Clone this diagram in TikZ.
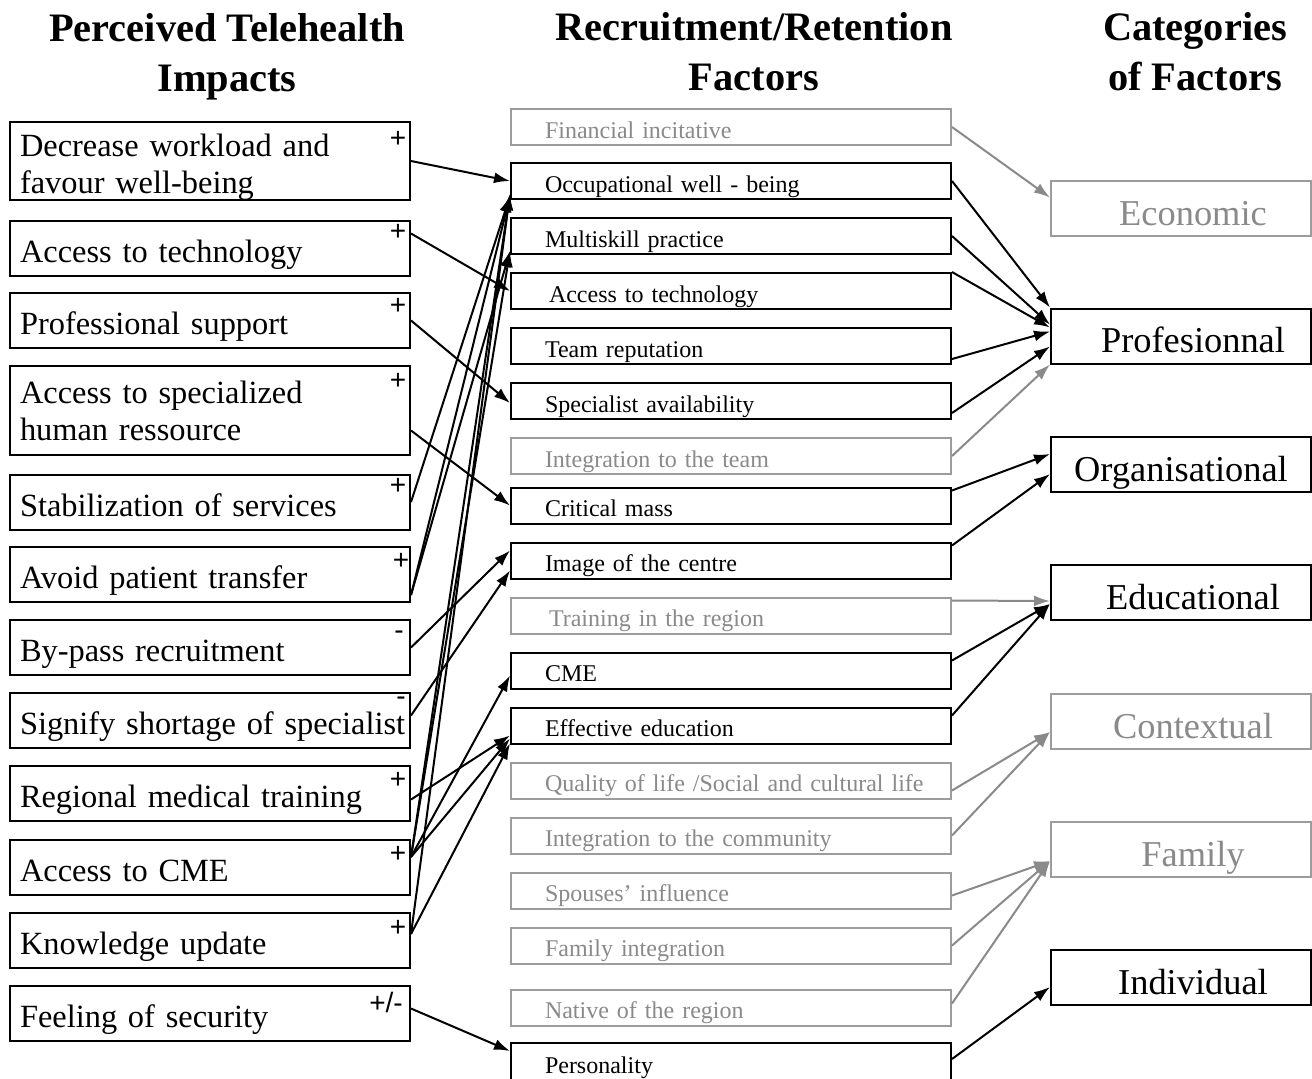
\documentclass[tikz,border=0pt]{standalone}
\usepackage{fontspec}
\setmainfont{Liberation Serif}
\newfontfamily\signfont{Liberation Sans}
\usetikzlibrary{arrows.meta,calc}
\definecolor{fg}{HTML}{8A8A8A}
\definecolor{gb}{HTML}{9C9C9C}
\begin{document}
\begin{tikzpicture}[x=0.5pt,y=-0.5pt,
  title/.style={align=center, font=\fontsize{20.2}{25}\selectfont\bfseries},
  lbox/.style={draw, line width=1pt, minimum width=200pt, text width=190pt, inner xsep=5pt, inner ysep=0pt, align=left, minimum height=27.5pt, font=\fontsize{16.2}{18.5}\selectfont},
  one/.style={text height=14pt, text depth=0pt},
  sign/.style={font=\signfont\fontsize{14}{14}\selectfont, inner sep=0pt},
  mbox/.style={draw, line width=1pt, minimum width=220pt, text width=186pt, inner xsep=17pt, inner ysep=0pt, align=left, minimum height=18pt, text height=11pt, text depth=0pt, font=\fontsize{12}{14}\selectfont},
  gmbox/.style={mbox, draw=gb, text=fg},
  rbox/.style={draw, line width=1pt, minimum width=130pt, minimum height=27.5pt, inner sep=0pt, text height=16.5pt, text depth=0pt, font=\fontsize{18.2}{20}\selectfont},
  grbox/.style={rbox, draw=gb, text=fg},
  arr/.style={line width=1pt, -{Latex[length=8pt,width=5.5pt]}},
  garr/.style={arr, color=fg}]
\path[fill=white, use as bounding box] (0,0) rectangle (1312,1078);

% titles
\node[title] (t1) at (227,57) {Perceived Telehealth\\Impacts};
\node[title] (t2) at (754,52) {Recruitment/Retention\\Factors};
\node[title] (t3) at (1195,52) {Categories\\of Factors};

% left column
\node[lbox, minimum height=39pt] (L1) at (210,161) {\rule{0pt}{17pt}Decrease workload and\\favour well-being};
\node[lbox, one] (L2) at (210,248) {Access to technology};
\node[lbox, one] (L3) at (210,320.5) {Professional support};
\node[lbox, minimum height=44.5pt] (L4) at (210,410.5) {Access to specialized\\human ressource};
\node[lbox, one] (L5) at (210,502) {Stabilization of services};
\node[lbox, one] (L6) at (210,574.5) {Avoid patient transfer};
\node[lbox, one] (L7) at (210,647.5) {By-pass recruitment};
\node[lbox, one] (L8) at (210,720.5) {\mbox{Signify shortage of specialist}};
\node[lbox, one] (L9) at (210,793.5) {Regional medical training};
\node[lbox, one] (L10) at (210,867.5) {Access to CME};
\node[lbox, one] (L11) at (210,940.5) {Knowledge update};
\node[lbox, one] (L12) at (210,1013.5) {Feeling of security};

% signs
\node[sign] (s1) at ($(L1.north east)+(-13,18)$) {+};
\node[sign] (s2) at ($(L2.north east)+(-13,13)$) {+};
\node[sign] (s3) at ($(L3.north east)+(-13,14)$) {+};
\node[sign] (s4) at ($(L4.north east)+(-13,16)$) {+};
\node[sign] (s5) at ($(L5.north east)+(-13,13)$) {+};
\node[sign] (s6) at ($(L6.north east)+(-10,15)$) {+};
\node[sign] (s7) at ($(L7.north east)+(-12,16)$) {-};
\node[sign] (s8) at ($(L8.north east)+(-10,9)$) {-};
\node[sign] (s9) at ($(L9.north east)+(-13,15)$) {+};
\node[sign] (s10) at ($(L10.north east)+(-13,15)$) {+};
\node[sign] (s11) at ($(L11.north east)+(-13,16)$) {+};
\node[sign] (s12) at ($(L12.north east)+(-25,17)$) {+/-};

% middle column
\node[gmbox] (M1) at (731,127) {Financial incitative};
\node[mbox] (M2) at (731,181) {Occupational well - being};
\node[mbox] (M3) at (731,236) {Multiskill practice};
\node[mbox] (M4) at (731,291) {\hspace*{2pt}Access to technology};
\node[mbox] (M5) at (731,346) {Team reputation};
\node[mbox] (M6) at (731,401) {Specialist availability};
\node[gmbox] (M7) at (731,456) {Integration to the team};
\node[mbox] (M8) at (731,505.5) {Critical mass};
\node[mbox] (M9) at (731,560.5) {Image of the centre};
\node[gmbox] (M10) at (731,615.5) {\hspace*{2pt}Training in the region};
\node[mbox] (M11) at (731,670.5) {CME};
\node[mbox] (M12) at (731,725.5) {Effective education};
\node[gmbox] (M13) at (731,780.5) {\mbox{Quality of life /Social and cultural life}};
\node[gmbox] (M14) at (731,835.5) {Integration to the community};
\node[gmbox] (M15) at (731,890.5) {Spouses’ influence};
\node[gmbox] (M16) at (731,945.5) {Family integration};
\node[gmbox] (M17) at (731,1007.5) {Native of the region};
\node[mbox, minimum height=19.5pt] (M18) at (731,1062.5) {Personality};

% right column
\node[grbox] (R1) at (1181,208.5) {\hspace*{12pt}Economic};
\node[rbox] (R2) at (1181,336) {\hspace*{12pt}Profesionnal};
\node[rbox] (R3) at (1181,464.5) {Organisational};
\node[rbox] (R4) at (1181,592.5) {\hspace*{12pt}Educational};
\node[grbox] (R5) at (1181,721.5) {\hspace*{12pt}Contextual};
\node[grbox] (R6) at (1181,849.5) {\hspace*{12pt}Family};
\node[rbox] (R7) at (1181,977.5) {\hspace*{12pt}Individual};

% left -> middle
\draw[arr] (L1.east) -- (M2.west);
\draw[arr] ($(L2.north east)+(0,14)$) -- (M4.west);
\draw[arr] (L3.east) -- ($(M6.west)+(0,2)$);
\draw[arr] ($(L4.east)+(0,20)$) -- (M8.west);
\draw[arr] (L5.east) -- ($(M2.south west)+(0,-4)$);
\draw[arr] ($(L6.south east)+(0,-8)$) -- ($(M2.south west)+(0,-4)$);
\draw[arr] ($(L6.south east)+(0,-8)$) -- ($(M3.south west)+(0,-4)$);
\draw[arr] (L7.east) -- ($(M9.west)+(0,-10)$);
\draw[arr] ($(L8.east)+(0,-5)$) -- ($(M9.west)+(0,10)$);
\draw[arr] ($(L9.east)+(0,6)$) -- ($(M12.west)+(0,10)$);
\draw[arr] ($(L10.north east)+(0,18)$) -- ($(M11.west)+(0,5)$);
\draw[arr] ($(L10.north east)+(0,18)$) -- ($(M12.west)+(0,13)$);
\draw[arr] ($(L10.north east)+(0,18)$) -- ($(M2.south west)+(0,-6)$);
\draw[arr] ($(L10.north east)+(0,18)$) -- ($(M3.south west)+(0,-4)$);
\draw[arr] ($(L11.north east)+(0,22)$) -- ($(M2.south west)+(0,-6)$);
\draw[arr] ($(L11.north east)+(0,22)$) -- ($(M12.south west)+(0,-1)$);
\draw[arr] ($(L12.east)+(0,-5)$) -- ($(M18.north west)+(0,9)$);

% middle -> right
\draw[garr] (M1.east) -- ($(R1.west)+(0,-11)$);
\draw[arr] (M2.east) -- (R2.north west);
\draw[arr] (M3.east) -- ($(R2.north west)+(0,17)$);
\draw[arr] (M4.north east) -- ($(R2.north west)+(0,20)$);
\draw[arr] ($(M5.south east)+(0,-6)$) -- ($(R2.north west)+(0,24)$);
\draw[arr] ($(M6.south east)+(0,-7)$) -- ($(R2.north west)+(0,39)$);
\draw[garr] (M7.east) -- (R2.south west);
\draw[arr] ($(M8.north east)+(0,4)$) -- ($(R3.north west)+(0,18)$);
\draw[arr] ($(M9.north east)+(0,4)$) -- ($(R3.north west)+(0,38)$);
\draw[garr] ($(M10.north east)+(0,4)$) -- ($(R4.north west)+(0,37)$);
\draw[arr] ($(M11.north east)+(0,9)$) -- ($(R4.north west)+(0,40)$);
\draw[arr] ($(M12.north east)+(0,9)$) -- ($(R4.north west)+(0,40)$);
\draw[garr] ($(M13.east)+(0,10)$) -- ($(R5.north west)+(0,39)$);
\draw[garr] (M14.east) -- ($(R5.north west)+(0,39)$);
\draw[garr] ($(M15.east)+(0,5)$) -- ($(R6.north west)+(0,40)$);
\draw[garr] (M16.east) -- ($(R6.north west)+(0,40)$);
\draw[garr] ($(M17.east)+(0,-4)$) -- ($(R6.north west)+(0,40)$);
\draw[arr] ($(M18.north east)+(0,17)$) -- ($(R7.north west)+(0,38)$);
\end{tikzpicture}
\end{document}
